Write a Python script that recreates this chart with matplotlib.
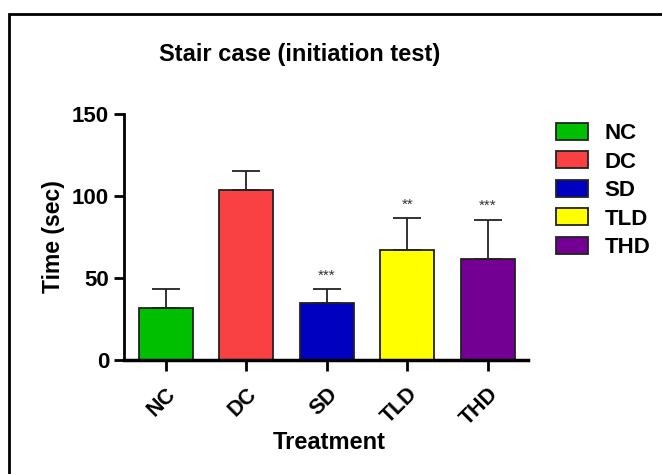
import numpy as np
import matplotlib
matplotlib.use("Agg")
import matplotlib.pyplot as plt
from matplotlib.patches import Rectangle

groups = ["NC", "DC", "SD", "TLD", "THD"]
means = [32, 103.5, 35, 67, 61.5]
errors = [11, 12, 8, 19.5, 24]
stars = ["", "", "***", "**", "***"]
colors = ["#00BF00", "#F94144", "#0000C0", "#FFFF00", "#730092"]

plt.rcParams['font.family'] = ['Liberation Sans', 'DejaVu Sans']
plt.rcParams['font.weight'] = 'bold'

fig = plt.figure(figsize=(6.62, 4.74), dpi=100)
ax = fig.add_axes([0.187, 0.2405, 0.611, 0.519])

x = np.arange(len(groups))
ax.bar(x, means, width=0.67, color=colors, edgecolor="#222222", linewidth=1.3)
ax.errorbar(x, means, yerr=[np.zeros(len(means)), errors], fmt="none",
            ecolor="#222222", elinewidth=1.3, capsize=10, capthick=1.3)

for xi, m, e, s in zip(x, means, errors, stars):
    if s:
        ax.text(xi, m + e + 4, s, ha="center", va="bottom", fontsize=11,
                fontweight="normal", color="#333333")

ax.set_xlim(-0.52, 4.5)
ax.set_ylim(0, 150)
ax.set_yticks([0, 50, 100, 150])
ax.set_xticks(x)
ax.set_xticklabels(groups, rotation=45, ha="right", rotation_mode="anchor",
                   fontsize=15.5, fontweight="bold")
for lbl in ax.get_yticklabels():
    lbl.set_fontsize(16)
    lbl.set_fontweight("bold")
ax.tick_params(axis="both", width=2, length=7, direction="out")
ax.tick_params(axis="x", length=8, pad=9)
ax.spines["top"].set_visible(False)
ax.spines["right"].set_visible(False)
ax.spines["left"].set_linewidth(2)
ax.spines["bottom"].set_linewidth(2.5)

ax.set_ylabel("Time (sec)", fontsize=16.5, fontweight="bold", labelpad=5)
ax.set_xlabel("Treatment", fontsize=17, fontweight="bold")
ax.xaxis.set_label_coords(0.507, -0.29)

fig.text(0.453, 0.886, "Stair case (initiation test)", ha="center", va="center",
         fontsize=17, fontweight="bold")

handles = [Rectangle((0, 0), 1, 1, facecolor=c, edgecolor="#222222", linewidth=1.3)
           for c in colors]
leg = fig.legend(handles, groups, loc="upper left", bbox_to_anchor=(0.8406, 0.741),
                 frameon=False, fontsize=16, handlelength=1.4, handleheight=0.8,
                 labelspacing=0.33, handletextpad=0.75, borderpad=0, borderaxespad=0)
for t in leg.get_texts():
    t.set_fontweight("bold")

fig.add_artist(Rectangle((9 / 662, -0.1), 1.2, 1 - 14 / 474 + 0.1,
                         transform=fig.transFigure, fill=False,
                         edgecolor="black", linewidth=2))

fig.savefig("out.png", dpi=100)
